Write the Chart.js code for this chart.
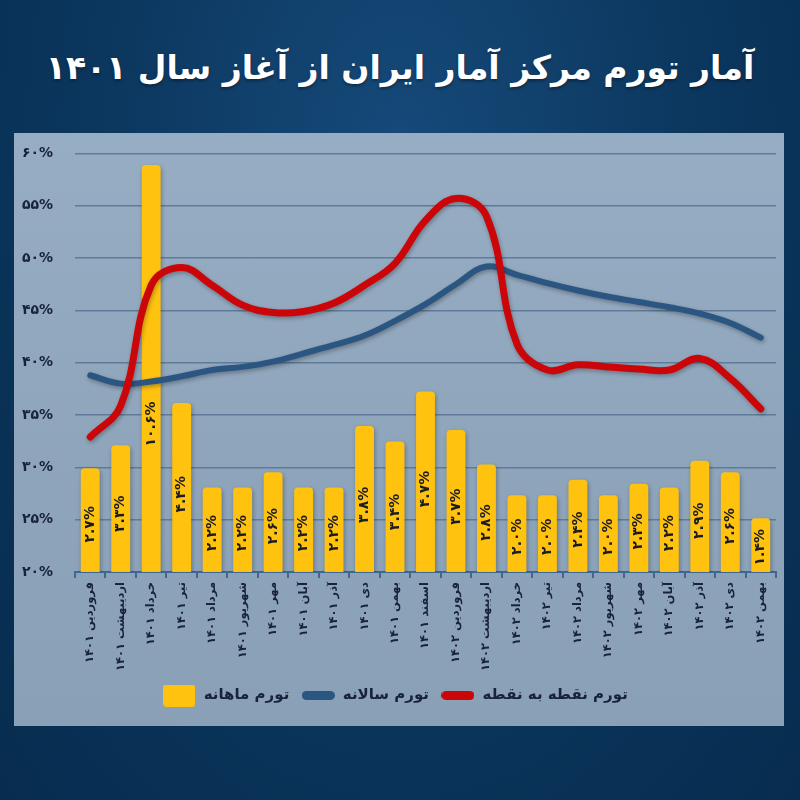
<!DOCTYPE html>
<html lang="fa">
<head>
<meta charset="utf-8">
<script src="https://cdn.jsdelivr.net/npm/chart.js@4.4.1/dist/chart.umd.min.js"></script>
<style>
  html, body { margin: 0; padding: 0; }
  body {
    width: 800px; height: 800px; overflow: hidden; position: relative;
    background: radial-gradient(ellipse at 50% 20%, #164a7a 0%, #0b365d 55%, #072c4f 100%);
    font-family: 'DejaVu Sans', sans-serif;
  }
  #title {
    position: absolute; left: 0; top: 38px; width: 800px; text-align: center;
    color: #ffffff; font-weight: bold; font-size: 38px; line-height: 60px;
    white-space: nowrap;
    text-shadow: 0 2px 3px rgba(0,0,0,0.35);
  }
  #title span { display: inline-block; }
  #panel {
    position: absolute; left: 14px; top: 133px; width: 770px; height: 593px;
    background: linear-gradient(180deg, #97adc3 0%, #8ea4ba 60%, #8aa0b6 100%);
  }
  /* canvas a bit taller than the panel so the plot top lands where it should */
  #panel canvas { position: absolute; left: 0; top: -10px; }
</style>
</head>
<body>
<div id="title" dir="rtl"><span>آمار تورم مرکز آمار ایران از آغاز سال ۱۴۰۱</span></div>
<div id="panel"><canvas id="chart" width="770" height="603"></canvas></div>
<script>
// --- data ---
const months = [
  'فروردین ۱۴۰۱', 'اردیبهشت ۱۴۰۱', 'خرداد ۱۴۰۱', 'تیر ۱۴۰۱', 'مرداد ۱۴۰۱', 'شهریور ۱۴۰۱',
  'مهر ۱۴۰۱', 'آبان ۱۴۰۱', 'آذر ۱۴۰۱', 'دی ۱۴۰۱', 'بهمن ۱۴۰۱', 'اسفند ۱۴۰۱',
  'فروردین ۱۴۰۲', 'اردیبهشت ۱۴۰۲', 'خرداد ۱۴۰۲', 'تیر ۱۴۰۲', 'مرداد ۱۴۰۲', 'شهریور ۱۴۰۲',
  'مهر ۱۴۰۲', 'آبان ۱۴۰۲', 'آذر ۱۴۰۲', 'دی ۱۴۰۲', 'بهمن ۱۴۰۲'
];
const monthly = [2.7, 3.3, 10.6, 4.4, 2.2, 2.2, 2.6, 2.2, 2.2, 3.8, 3.4, 4.7,
                 3.7, 2.8, 2.0, 2.0, 2.4, 2.0, 2.3, 2.2, 2.9, 2.6, 1.4];
const annual = [38.8, 38.0, 38.2, 38.7, 39.3, 39.6, 40.1, 40.9, 41.7, 42.6, 44.0, 45.6,
                47.5, 49.2, 48.4, 47.6, 46.9, 46.3, 45.8, 45.3, 44.7, 43.8, 42.4];
const pointToPoint = [32.9, 35.9, 47.4, 49.1, 47.4, 45.5, 44.8, 44.9, 45.7, 47.4, 49.5, 53.6,
                      55.7, 54.0, 41.8, 39.3, 39.8, 39.6, 39.4, 39.3, 40.4, 38.5, 35.6];
const yTicks = [20, 25, 30, 35, 40, 45, 50, 55, 60];
const seriesNames = ['تورم ماهانه', 'تورم سالانه', 'تورم نقطه به نقطه'];

const YELLOW = '#fec20f';
const BLUE = '#2b5682';
const RED = '#cc0608';
const TEXT = '#18223d';

const faDigits = s => String(s).replace(/\d/g, d => '۰۱۲۳۴۵۶۷۸۹'[d]);

// fit the title to the width it has in the reference
(function fitTitle() {
  const span = document.querySelector('#title span');
  const w = span.getBoundingClientRect().width;
  if (w > 0) span.parentNode.style.fontSize = (38 * 708 / w).toFixed(1) + 'px';
})();

Chart.defaults.font.family = "'DejaVu Sans', sans-serif";
Chart.defaults.font.weight = 'bold';
Chart.defaults.color = TEXT;

// small canvases used as legend symbols
function legendSymbol(w, h, color, r) {
  const c = document.createElement('canvas');
  c.width = w; c.height = h;
  const g = c.getContext('2d');
  g.fillStyle = color;
  g.beginPath();
  g.roundRect(0, 0, w, h, r);
  g.fill();
  return c;
}
const symbols = [
  legendSymbol(32, 22, YELLOW, 3),
  legendSymbol(33, 9, BLUE, 4.5),
  legendSymbol(33, 9, RED, 4.5)
];

// soft shadow under lines and bars
const shadowPlugin = {
  id: 'shadow',
  beforeDatasetDraw(chart) {
    const ctx = chart.ctx;
    ctx.save();
    ctx.shadowColor = 'rgba(0,0,0,0.3)';
    ctx.shadowBlur = 4;
    ctx.shadowOffsetX = 1;
    ctx.shadowOffsetY = 2;
  },
  afterDatasetDraw(chart) {
    chart.ctx.restore();
  }
};

// vertical value labels inside the bars
const barLabels = {
  id: 'barLabels',
  afterDatasetsDraw(chart) {
    const meta = chart.getDatasetMeta(0);
    const ctx = chart.ctx;
    ctx.save();
    ctx.fillStyle = '#1b1b22';
    ctx.font = "bold 14px 'DejaVu Sans', sans-serif";
    ctx.textAlign = 'center';
    ctx.textBaseline = 'middle';
    meta.data.forEach((bar, i) => {
      const h = bar.base - bar.y;
      const cy = bar.base - Math.min(h * 0.46, 148);
      ctx.save();
      ctx.translate(bar.x, cy);
      ctx.rotate(-Math.PI / 2);
      ctx.fillText(faDigits(monthly[i].toFixed(1)) + '%', 0, 0);
      ctx.restore();
    });
    ctx.restore();
  }
};

new Chart(document.getElementById('chart'), {
  type: 'bar',
  data: {
    labels: months,
    datasets: [
      {
        type: 'bar',
        label: seriesNames[0],
        data: monthly,
        yAxisID: 'y1',
        backgroundColor: YELLOW,
        borderRadius: { topLeft: 4, topRight: 4 },
        borderSkipped: 'bottom',
        barPercentage: 0.62,
        categoryPercentage: 1,
        order: 3
      },
      {
        type: 'line',
        label: seriesNames[1],
        data: annual,
        yAxisID: 'y',
        borderColor: BLUE,
        backgroundColor: BLUE,
        borderWidth: 6,
        borderCapStyle: 'round',
        tension: 0.4,
        pointRadius: 0,
        order: 2
      },
      {
        type: 'line',
        label: seriesNames[2],
        data: pointToPoint,
        yAxisID: 'y',
        borderColor: RED,
        backgroundColor: RED,
        borderWidth: 7,
        borderCapStyle: 'round',
        tension: 0.4,
        pointRadius: 0,
        order: 1
      }
    ]
  },
  options: {
    responsive: false,
    animation: false,
    layout: { padding: { top: 3, right: 8, bottom: 13, left: 0 } },
    scales: {
      x: {
        offset: true,
        grid: { display: true, drawOnChartArea: false, drawTicks: true, tickLength: 6, offset: true, color: '#3f6792', lineWidth: 2 },
        border: { display: true, color: '#3f6792', width: 2 },
        ticks: { minRotation: 90, maxRotation: 90, autoSkip: false, padding: 4, font: { size: 11.5, weight: 'bold' }, color: TEXT },
        afterFit(scale) { scale.height = 104; }
      },
      y: {
        min: 20,
        max: 60,
        afterBuildTicks(scale) { scale.ticks = yTicks.map(v => ({ value: v })); },
        grid: { color: '#5f7b99', lineWidth: 1.5, drawTicks: false },
        border: { display: false },
        ticks: { padding: 22, font: { size: 14, weight: 'bold' }, color: TEXT, callback: v => faDigits(v) + '%' },
        afterFit(scale) { scale.width = 61; }
      },
      y1: {
        display: false,
        min: 0,
        max: 10.9
      }
    },
    plugins: {
      legend: {
        position: 'bottom',
        labels: {
          usePointStyle: true,
          pointStyleWidth: 34,
          padding: 12,
          color: TEXT,
          font: { size: 15, weight: 'bold' },
          generateLabels(chart) {
            const items = Chart.defaults.plugins.legend.labels.generateLabels(chart);
            items.sort((a, b) => a.datasetIndex - b.datasetIndex);
            items.forEach(it => { it.pointStyle = symbols[it.datasetIndex]; it.fontColor = TEXT; });
            return items;
          }
        }
      },
      tooltip: { enabled: false }
    }
  },
  plugins: [shadowPlugin, barLabels]
});
</script>
</body>
</html>
